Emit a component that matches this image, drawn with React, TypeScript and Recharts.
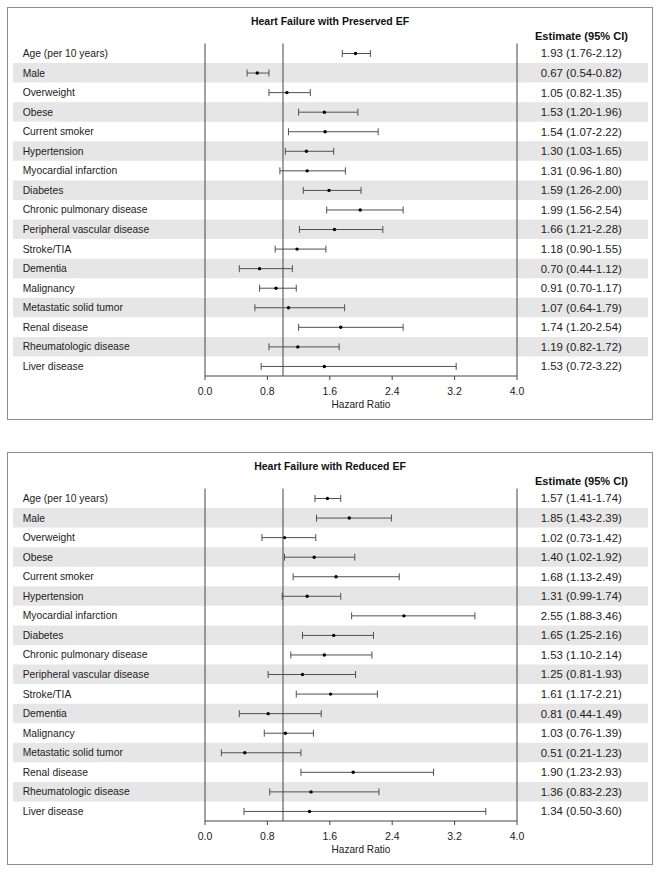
import React from 'react';
import { ComposedChart, Bar, XAxis, YAxis, ReferenceArea, ReferenceLine } from 'recharts';

const factors = [
  'Age (per 10 years)',
  'Male',
  'Overweight',
  'Obese',
  'Current smoker',
  'Hypertension',
  'Myocardial infarction',
  'Diabetes',
  'Chronic pulmonary disease',
  'Peripheral vascular disease',
  'Stroke/TIA',
  'Dementia',
  'Malignancy',
  'Metastatic solid tumor',
  'Renal disease',
  'Rheumatologic disease',
  'Liver disease',
];

const pefEst = [1.93, 0.67, 1.05, 1.53, 1.54, 1.30, 1.31, 1.59, 1.99, 1.66, 1.18, 0.70, 0.91, 1.07, 1.74, 1.19, 1.53];
const pefLow = [1.76, 0.54, 0.82, 1.20, 1.07, 1.03, 0.96, 1.26, 1.56, 1.21, 0.90, 0.44, 0.70, 0.64, 1.20, 0.82, 0.72];
const pefHigh = [2.12, 0.82, 1.35, 1.96, 2.22, 1.65, 1.80, 2.00, 2.54, 2.28, 1.55, 1.12, 1.17, 1.79, 2.54, 1.72, 3.22];

const refEst = [1.57, 1.85, 1.02, 1.40, 1.68, 1.31, 2.55, 1.65, 1.53, 1.25, 1.61, 0.81, 1.03, 0.51, 1.90, 1.36, 1.34];
const refLow = [1.41, 1.43, 0.73, 1.02, 1.13, 0.99, 1.88, 1.25, 1.10, 0.81, 1.17, 0.44, 0.76, 0.21, 1.23, 0.83, 0.50];
const refHigh = [1.74, 2.39, 1.42, 1.92, 2.49, 1.74, 3.46, 2.16, 2.14, 1.93, 2.21, 1.49, 1.39, 1.23, 2.93, 2.23, 3.60];

const xTicks = [0, 0.8, 1.6, 2.4, 3.2, 4.0];
const xDomain: [number, number] = [0, 4];
const nullValue = 1;
const panelTitles = ['Heart Failure with Preserved EF', 'Heart Failure with Reduced EF'];
const estimateHeader = 'Estimate (95% CI)';
const axisTitle = 'Hazard Ratio';

// layout constants
const PANEL_W = 646;
const PANEL_H = 413;
const LEFT_AXIS_W = 198;
const RIGHT_AXIS_W = 136;
const PLOT_W = PANEL_W - LEFT_AXIS_W - RIGHT_AXIS_W;
const SHADE_LEFT = 6;
const SHADE_RIGHT = 641;
const FONT = '"Liberation Sans", Arial, sans-serif';
const LINE = '#454545';
const CI_COLOR = '#505050';
const SHADE = '#e6e6e6';

const pxToData = (px: number) => xDomain[0] + ((px - LEFT_AXIS_W) / PLOT_W) * (xDomain[1] - xDomain[0]);

type Row = { name: string; est: number; lo: number; hi: number; ci: [number, number]; label: string; shaded: boolean };

const buildRows = (est: number[], lo: number[], hi: number[]): Row[] =>
  factors.map((name, i) => ({
    name,
    est: est[i],
    lo: lo[i],
    hi: hi[i],
    ci: [lo[i], hi[i]],
    label: `${est[i].toFixed(2)} (${lo[i].toFixed(2)}-${hi[i].toFixed(2)})`,
    shaded: i % 2 === 1,
  }));

const CiShape = (props: any) => {
  const { x, y, width, height, payload } = props;
  if (x == null || y == null) return null;
  const cy = y + height / 2;
  const ex = x + (width * (payload.est - payload.lo)) / (payload.hi - payload.lo);
  return (
    <g>
      <line x1={x} x2={x + width} y1={cy} y2={cy} stroke={CI_COLOR} strokeWidth={1} />
      <line x1={x} x2={x} y1={cy - 3.5} y2={cy + 3.5} stroke={CI_COLOR} strokeWidth={1} />
      <line x1={x + width} x2={x + width} y1={cy - 3.5} y2={cy + 3.5} stroke={CI_COLOR} strokeWidth={1} />
      <circle cx={ex} cy={cy} r={1.7} fill="#000" />
    </g>
  );
};

const Panel = ({ title, rows, top }: { title: string; rows: Row[]; top: number }) => {
  const labelOf = (name: string) => rows.find((r) => r.name === name)?.label ?? '';
  return (
    <div style={{ position: 'absolute', left: 7, top, width: PANEL_W, height: PANEL_H }}>
      <div
        style={{
          position: 'absolute',
          left: 0,
          top: 0,
          width: PANEL_W,
          height: PANEL_H,
          border: '1px solid #8c8c8c',
          boxSizing: 'border-box',
        }}
      />
      <div
        style={{
          position: 'absolute',
          left: 0,
          top: 6.8,
          width: PANEL_W,
          lineHeight: '14px',
          textAlign: 'center',
          fontFamily: FONT,
          fontWeight: 'bold',
          fontSize: 10.5,
          color: '#111',
        }}
      >
        {title}
      </div>
      <div
        style={{
          position: 'absolute',
          left: 574.5 - 70,
          top: 22,
          width: 140,
          lineHeight: '14px',
          textAlign: 'center',
          fontFamily: FONT,
          fontWeight: 'bold',
          fontSize: 11.1,
          color: '#111',
        }}
      >
        {estimateHeader}
      </div>
      <div style={{ position: 'absolute', left: 0, top: 0 }}>
        <ComposedChart
          width={PANEL_W}
          height={PANEL_H}
          data={rows}
          layout="vertical"
          margin={{ top: 36.5, right: 0, bottom: 14, left: 0 }}
          barCategoryGap={0}
        >
          {rows
            .filter((r) => r.shaded)
            .map((r) => (
              <ReferenceArea
                key={r.name}
                xAxisId="hr"
                yAxisId="left"
                y1={r.name}
                y2={r.name}
                x1={pxToData(SHADE_LEFT)}
                x2={pxToData(SHADE_RIGHT)}
                ifOverflow="visible"
                fill={SHADE}
                fillOpacity={1}
                stroke="none"
              />
            ))}
          <XAxis
            xAxisId="hr"
            type="number"
            domain={xDomain}
            ticks={xTicks}
            interval={0}
            height={30}
            axisLine={{ stroke: LINE }}
            tickLine={{ stroke: LINE }}
            tickSize={4}
            tick={(p: any) => (
              <text
                x={p.x}
                y={p.y + 12.5}
                textAnchor="middle"
                fontFamily={FONT}
                fontSize={10.5}
                fill="#222"
              >
                {Number(p.payload.value).toFixed(1)}
              </text>
            )}
            label={{
              content: (p: any) => {
                const vb = p.viewBox || {};
                return (
                  <text
                    x={vb.x + vb.width / 2}
                    y={vb.y + 31.6}
                    textAnchor="middle"
                    fontFamily={FONT}
                    fontSize={10.1}
                    fill="#222"
                  >
                    {axisTitle}
                  </text>
                );
              },
            }}
          />
          <YAxis
            yAxisId="left"
            type="category"
            dataKey="name"
            scale="band"
            width={LEFT_AXIS_W}
            axisLine={false}
            tickLine={false}
            interval={0}
            tick={(p: any) => (
              <text x={15.7} y={p.y} dy="0.36em" textAnchor="start" fontFamily={FONT} fontSize={10.3} fill="#222">
                {p.payload.value}
              </text>
            )}
          />
          <YAxis
            yAxisId="right"
            orientation="right"
            type="category"
            dataKey="name"
            scale="band"
            width={RIGHT_AXIS_W}
            axisLine={false}
            tickLine={false}
            interval={0}
            tick={(p: any) => (
              <text x={574.3} y={p.y} dy="0.36em" textAnchor="middle" fontFamily={FONT} fontSize={11.4} fill="#222">
                {labelOf(p.payload.value)}
              </text>
            )}
          />
          <ReferenceLine xAxisId="hr" yAxisId="left" x={xDomain[0]} stroke={LINE} strokeWidth={1} />
          <ReferenceLine xAxisId="hr" yAxisId="left" x={nullValue} stroke={LINE} strokeWidth={1} />
          <ReferenceLine xAxisId="hr" yAxisId="left" x={xDomain[1]} stroke={LINE} strokeWidth={1} />
          <Bar xAxisId="hr" yAxisId="left" dataKey="ci" shape={CiShape} isAnimationActive={false} />
        </ComposedChart>
      </div>
    </div>
  );
};

const pefRows = buildRows(pefEst, pefLow, pefHigh);
const refRows = buildRows(refEst, refLow, refHigh);

export default function App() {
  return (
    <div style={{ position: 'absolute', left: 0, top: 0, width: 661, height: 873, background: '#fff' }}>
      <Panel title={panelTitles[0]} rows={pefRows} top={7} />
      <Panel title={panelTitles[1]} rows={refRows} top={452} />
    </div>
  );
}
